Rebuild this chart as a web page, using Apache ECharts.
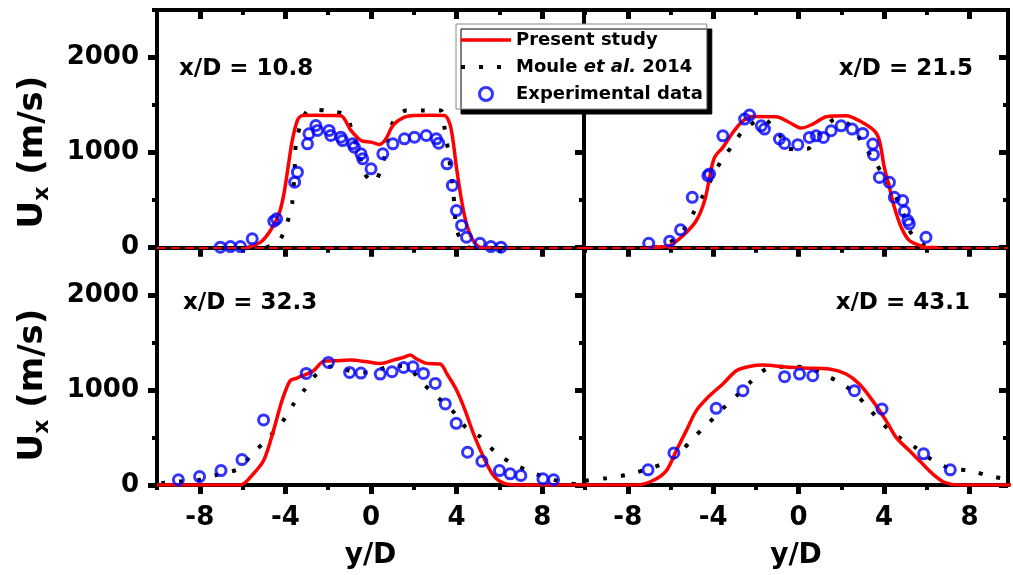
<!DOCTYPE html>
<html>
<head>
<meta charset="utf-8">
<script src="https://cdn.jsdelivr.net/npm/echarts@6/dist/echarts.min.js"></script>
<style>
  html, body { margin: 0; padding: 0; background: #fff; }
  #chart { width: 1013px; height: 575px; }
</style>
</head>
<body>
<div id="chart"></div>
<script>
// Axis ticks (y/D and U_x in m/s)
const X_MAJOR = [-8, -4, 0, 4, 8];
const X_MINOR = [-10, -6, -2, 2, 6, 10];
const Y_MAJOR = [0, 1000, 2000];
const Y_MINOR = [500, 1500, 2500];

// Station labels
const STATIONS = ['x/D = 10.8', 'x/D = 21.5', 'x/D = 32.3', 'x/D = 43.1'];
const SERIES_NAMES = ['Present study', 'Moule et al. 2014', 'Experimental data'];

// x/D = 10.8
const PRESENT_10_8 = [[-5.8,0],[-5.16,56],[-4.7,179],[-4.3,355],[-4.07,565],[-3.83,916],[-3.68,1126],[-3.44,1337],[-3.2,1390],[-2.6,1392],[-2.0,1390],[-1.41,1388],[-0.94,1232],[-0.47,1126],[0,1109],[0.39,1084],[0.7,1144],[1.02,1284],[1.56,1372],[2.03,1390],[2.8,1392],[3.44,1390],[3.68,1302],[3.83,1126],[3.99,845],[4.23,495],[4.46,249],[4.77,74],[5.16,0],[5.6,0]];
const MOULE_10_8 = [[-4.9,0],[-4.3,67],[-3.91,267],[-3.68,477],[-3.55,898],[-3.5,1109],[-3.2,1350],[-2.85,1453],[-1.88,1435],[-1.17,1390],[-0.86,1197],[-0.55,986],[-0.31,782],[0.12,688],[0.55,881],[0.97,1295],[1.64,1442],[2.47,1442],[3.25,1442],[3.44,1249],[3.6,1021],[3.83,618],[3.91,389],[3.99,197],[4.3,40],[4.6,0]];
const EXP_10_8 = [[-7.04,3],[-6.57,10],[-6.1,10],[-5.55,91],[-4.54,277],[-4.41,302],[-3.57,688],[-3.44,793],[-2.97,1091],[-2.9,1197],[-2.58,1284],[-2.5,1232],[-1.96,1232],[-1.88,1179],[-1.41,1161],[-1.33,1126],[-0.86,1091],[-0.78,1056],[-0.47,986],[-0.39,933],[0,828],[0.55,986],[1.02,1091],[1.56,1144],[2.03,1161],[2.58,1179],[3.05,1144],[3.16,1098],[3.55,881],[3.8,653],[3.99,389],[4.23,232],[4.46,108],[5.09,45],[5.6,10],[6.07,3]];

// x/D = 21.5
const PRESENT_21_5 = [[-7.0,0],[-6.6,5],[-6.04,21],[-5.41,126],[-4.79,284],[-4.4,494],[-4.17,738],[-3.94,948],[-3.55,1054],[-3.08,1211],[-2.61,1334],[-2.15,1379],[-1.05,1376],[-0.43,1316],[0.12,1257],[0.66,1299],[1.29,1376],[2.22,1387],[2.84,1334],[3.54,1229],[3.78,1124],[4.01,843],[4.25,633],[4.48,423],[4.8,213],[5.18,74],[5.81,10],[6.1,0],[6.5,0]];
const MOULE_21_5 = [[-6.8,0],[-6.12,39],[-5.41,179],[-4.95,354],[-4.48,546],[-4.09,721],[-3.62,914],[-3.07,1082],[-2.53,1247],[-1.68,1352],[-0.93,1194],[-0.43,1037],[0.38,1037],[0.97,1194],[1.75,1352],[2.5,1271],[3.0,1089],[3.54,914],[4.01,738],[4.48,564],[4.87,371],[5.18,179],[5.88,21],[6.3,0]];
const EXP_21_5 = [[-7.02,45],[-6.04,66],[-5.53,186],[-4.98,528],[-4.25,756],[-4.17,774],[-3.55,1176],[-2.53,1352],[-2.3,1394],[-1.75,1281],[-1.6,1247],[-0.9,1142],[-0.66,1096],[-0.04,1082],[0.5,1159],[0.82,1176],[1.16,1159],[1.52,1229],[1.99,1281],[2.5,1247],[3.0,1201],[3.47,1089],[3.5,977],[3.78,738],[4.25,686],[4.48,528],[4.87,494],[4.95,381],[5.11,284],[5.18,249],[5.96,108]];

// x/D = 32.3
const PRESENT_32_3 = [[-10,0],[-6.11,0],[-5.64,82],[-5.02,257],[-4.56,572],[-4.16,888],[-3.78,1098],[-3.46,1126],[-2.69,1203],[-2.22,1301],[-1.59,1308],[-0.97,1315],[-0.19,1297],[0.43,1280],[1.05,1315],[1.52,1343],[1.83,1368],[2.14,1326],[2.61,1280],[3.23,1273],[3.55,1168],[4.01,993],[4.4,783],[4.79,538],[5.26,292],[5.72,100],[6.19,19],[6.82,0],[10,0]];
const MOULE_32_3 = [[-9.8,20],[-9.0,35],[-7.98,55],[-7.05,118],[-6.19,170],[-5.52,334],[-4.84,485],[-4.16,660],[-3.65,842],[-3.12,1000],[-2.53,1168],[-1.67,1255],[-0.82,1190],[0.04,1185],[0.9,1255],[1.6,1250],[2.43,1068],[3.05,935],[3.78,788],[4.4,612],[5.1,507],[5.81,345],[6.58,228],[7.44,140],[8.29,70],[9.23,18],[9.9,5]];
const EXP_32_3 = [[-9.0,55],[-8.01,89],[-7.01,152],[-6.03,268],[-5.02,685],[-3.03,1175],[-1.99,1290],[-1.0,1185],[-0.47,1178],[0.43,1168],[0.98,1192],[1.52,1237],[1.96,1245],[2.45,1175],[3.0,1069],[3.47,853],[3.98,649],[4.51,345],[5.18,250],[6.0,152],[6.5,118],[7.0,100],[8.03,65],[8.53,55]];

// x/D = 43.1
const PRESENT_43_1 = [[-10,0],[-7.6,0],[-6.82,47],[-6.19,152],[-5.73,362],[-5.26,572],[-4.79,783],[-4.17,940],[-3.55,1063],[-2.92,1203],[-2.3,1248],[-1.68,1262],[-0.74,1245],[0.19,1231],[1.44,1220],[2.22,1168],[2.84,1063],[3.46,888],[4.09,678],[4.56,502],[5.18,362],[5.8,223],[6.27,118],[6.82,29],[7.52,0],[10,0]];
const MOULE_43_1 = [[-10,45],[-9.0,72],[-8.04,107],[-7.05,170],[-6.19,240],[-5.57,338],[-4.95,492],[-4.3,632],[-3.62,790],[-2.95,930],[-2.3,1073],[-1.52,1220],[-0.58,1245],[0.35,1237],[1.21,1161],[1.99,1069],[2.61,970],[3.31,800],[3.93,643],[4.71,502],[5.49,391],[6.24,265],[7.1,175],[8.06,150],[8.92,95],[9.8,60]];
const EXP_43_1 = [[-7.05,160],[-5.84,338],[-3.86,807],[-2.61,993],[-0.66,1140],[0.04,1168],[0.66,1150],[2.61,993],[3.9,800],[5.85,328],[7.1,160]];

const PRESENT = [PRESENT_10_8, PRESENT_21_5, PRESENT_32_3, PRESENT_43_1];
const MOULE = [MOULE_10_8, MOULE_21_5, MOULE_32_3, MOULE_43_1];
const EXPERIMENT = [EXP_10_8, EXP_21_5, EXP_32_3, EXP_43_1];

// Panel geometry (pixels) and axis extents
const FONT = 'DejaVu Sans';
const PANEL_H = 237.5;
const LAYOUT = [
  { left: 157, top: 10,    width: 427, xMin: -10,   xMax: 9.95, xLabels: false, yLabels: true,  zeroLine: true,  tag: { x: 179, y: 69,  align: 'left' } },
  { left: 584, top: 10,    width: 424, xMin: -10.05, xMax: 9.8, xLabels: false, yLabels: false, zeroLine: true,  tag: { x: 973, y: 69,  align: 'right' } },
  { left: 157, top: 247.5, width: 427, xMin: -10,   xMax: 9.95, xLabels: true,  yLabels: true,  zeroLine: false, tag: { x: 183, y: 303, align: 'left' } },
  { left: 584, top: 247.5, width: 424, xMin: -10.05, xMax: 9.8, xLabels: true,  yLabels: false, zeroLine: false, tag: { x: 970, y: 303, align: 'right' } }
];

const BLACK = '#000';
const RED = '#ff0000';
const BLUE = '#0000ff';
const labelFont = { color: BLACK, fontFamily: FONT, fontWeight: 'bold', fontSize: 26, formatter: v => String(v) };

const grids = [], xAxes = [], yAxes = [], series = [], graphics = [];

function frameAxis(base, position, line, inside, len, width, values, label) {
  return Object.assign({}, base, {
    position: position,
    axisLine: { show: line, onZero: false, lineStyle: { color: BLACK, width: 4, cap: 'square' } },
    axisTick: { show: true, inside: inside, length: len, customValues: values,
                lineStyle: { color: BLACK, width: width } },
    axisLabel: label || { show: false }
  });
}

LAYOUT.forEach((L, gi) => {
  grids.push({ left: L.left, top: L.top, width: L.width, height: PANEL_H,
               containLabel: false, outerBoundsMode: 'none' });

  const inX = v => v >= L.xMin && v <= L.xMax;
  const xBase = { type: 'value', gridIndex: gi, min: L.xMin, max: L.xMax,
                  splitLine: { show: false }, silent: true };
  const xLabel = L.xLabels
    ? Object.assign({ show: true, customValues: X_MAJOR, margin: 20 }, labelFont)
    : { show: false };
  const bottom = frameAxis(xBase, 'bottom', true, false, 9, 5, X_MAJOR, xLabel);
  if (L.xLabels) {
    bottom.name = 'y/D';
    bottom.nameLocation = 'middle';
    bottom.nameGap = 57;
    bottom.nameTextStyle = { color: BLACK, fontFamily: FONT, fontWeight: 'bold', fontSize: 28 };
  }
  xAxes.push(bottom);
  xAxes.push(frameAxis(xBase, 'bottom', false, false, 5, 4, X_MINOR.filter(inX)));
  xAxes.push(frameAxis(xBase, 'top', true, true, 9, 5, X_MAJOR));
  xAxes.push(frameAxis(xBase, 'top', false, true, 5, 4, X_MINOR.filter(inX)));

  const yBase = { type: 'value', gridIndex: gi, min: 0, max: 2500,
                  splitLine: { show: false }, silent: true };
  const yLabel = L.yLabels
    ? Object.assign({ show: true, customValues: Y_MAJOR, margin: 18 }, labelFont)
    : { show: false };
  yAxes.push(frameAxis(yBase, 'left', true, false, 9, 5, Y_MAJOR, yLabel));
  yAxes.push(frameAxis(yBase, 'left', false, false, 5, 4, Y_MINOR));
  yAxes.push(frameAxis(yBase, 'right', true, true, 9, 5, Y_MAJOR));
  yAxes.push(frameAxis(yBase, 'right', false, true, 5, 4, Y_MINOR));

  const ax = 4 * gi;
  const present = {
    type: 'line', name: SERIES_NAMES[0], xAxisIndex: ax, yAxisIndex: ax,
    data: PRESENT[gi], symbol: 'none', smooth: 0.3, z: 3,
    lineStyle: { color: RED, width: 3.5 }, itemStyle: { color: RED }
  };
  if (L.zeroLine) {
    present.markLine = {
      silent: true, symbol: 'none', label: { show: false },
      lineStyle: { color: RED, width: 2, type: [9, 5] },
      data: [{ yAxis: 0 }]
    };
  }
  series.push(present);
  series.push({
    type: 'line', name: SERIES_NAMES[1], xAxisIndex: ax, yAxisIndex: ax,
    data: MOULE[gi], symbol: 'none', smooth: 0.3, z: 2,
    lineStyle: { color: BLACK, width: 4, type: [4, 14], cap: 'butt' }, itemStyle: { color: BLACK }
  });
  series.push({
    type: 'scatter', name: SERIES_NAMES[2], xAxisIndex: ax, yAxisIndex: ax,
    data: EXPERIMENT[gi], symbol: 'circle', symbolSize: 10, z: 4,
    itemStyle: { color: 'rgba(0,0,0,0)', borderColor: BLUE, borderWidth: 3 }
  });

  graphics.push({
    type: 'text', x: L.tag.x, y: L.tag.y, z: 10,
    style: { text: STATIONS[gi], fill: BLACK, fontFamily: FONT, fontWeight: 'bold', fontSize: 23,
             align: L.tag.align, verticalAlign: 'middle' }
  });
});

// Vertical axis titles U_x (m/s), one per row
[152, 385].forEach(cy => {
  graphics.push({
    type: 'text', x: 33, y: cy, rotation: Math.PI / 2, z: 10,
    style: {
      text: 'U{s|x} (m/s)', fill: BLACK, fontFamily: FONT, fontWeight: 'bold', fontSize: 34,
      lineHeight: 40, align: 'center', verticalAlign: 'middle',
      rich: { s: { fontFamily: FONT, fontWeight: 'bold', fontSize: 22, fill: BLACK, verticalAlign: 'bottom' } }
    }
  });
});

const hiddenSymbol = { color: 'rgba(0,0,0,0)', borderWidth: 0, opacity: 0 };

const chart = echarts.init(document.getElementById('chart'), null, { renderer: 'canvas' });
chart.setOption({
  animation: false,
  backgroundColor: '#fff',
  grid: grids,
  xAxis: xAxes,
  yAxis: yAxes,
  series: series,
  graphic: graphics,
  legend: {
    data: [
      { name: SERIES_NAMES[0], lineStyle: { width: 3.5 }, itemStyle: hiddenSymbol },
      { name: SERIES_NAMES[1], lineStyle: { width: 4 }, itemStyle: hiddenSymbol },
      { name: SERIES_NAMES[2], itemStyle: { borderWidth: 3 } }
    ],
    orient: 'vertical', left: 456, top: 24,
    itemWidth: 50, itemHeight: 13, itemGap: 7,
    padding: [6, 4, 5, 3],
    backgroundColor: '#fff', borderColor: '#888', borderWidth: 1,
    shadowColor: BLACK, shadowOffsetX: 5, shadowOffsetY: 5, shadowBlur: 0,
    selectedMode: false, z: 10,
    formatter: n => n === SERIES_NAMES[1] ? 'Moule {i|et al.} 2014' : n,
    textStyle: {
      color: BLACK, fontFamily: FONT, fontWeight: 'bold', fontSize: 18, lineHeight: 20,
      rich: { i: { color: BLACK, fontFamily: FONT, fontWeight: 'bold', fontStyle: 'italic', fontSize: 18, lineHeight: 20 } }
    }
  }
});
</script>
</body>
</html>
